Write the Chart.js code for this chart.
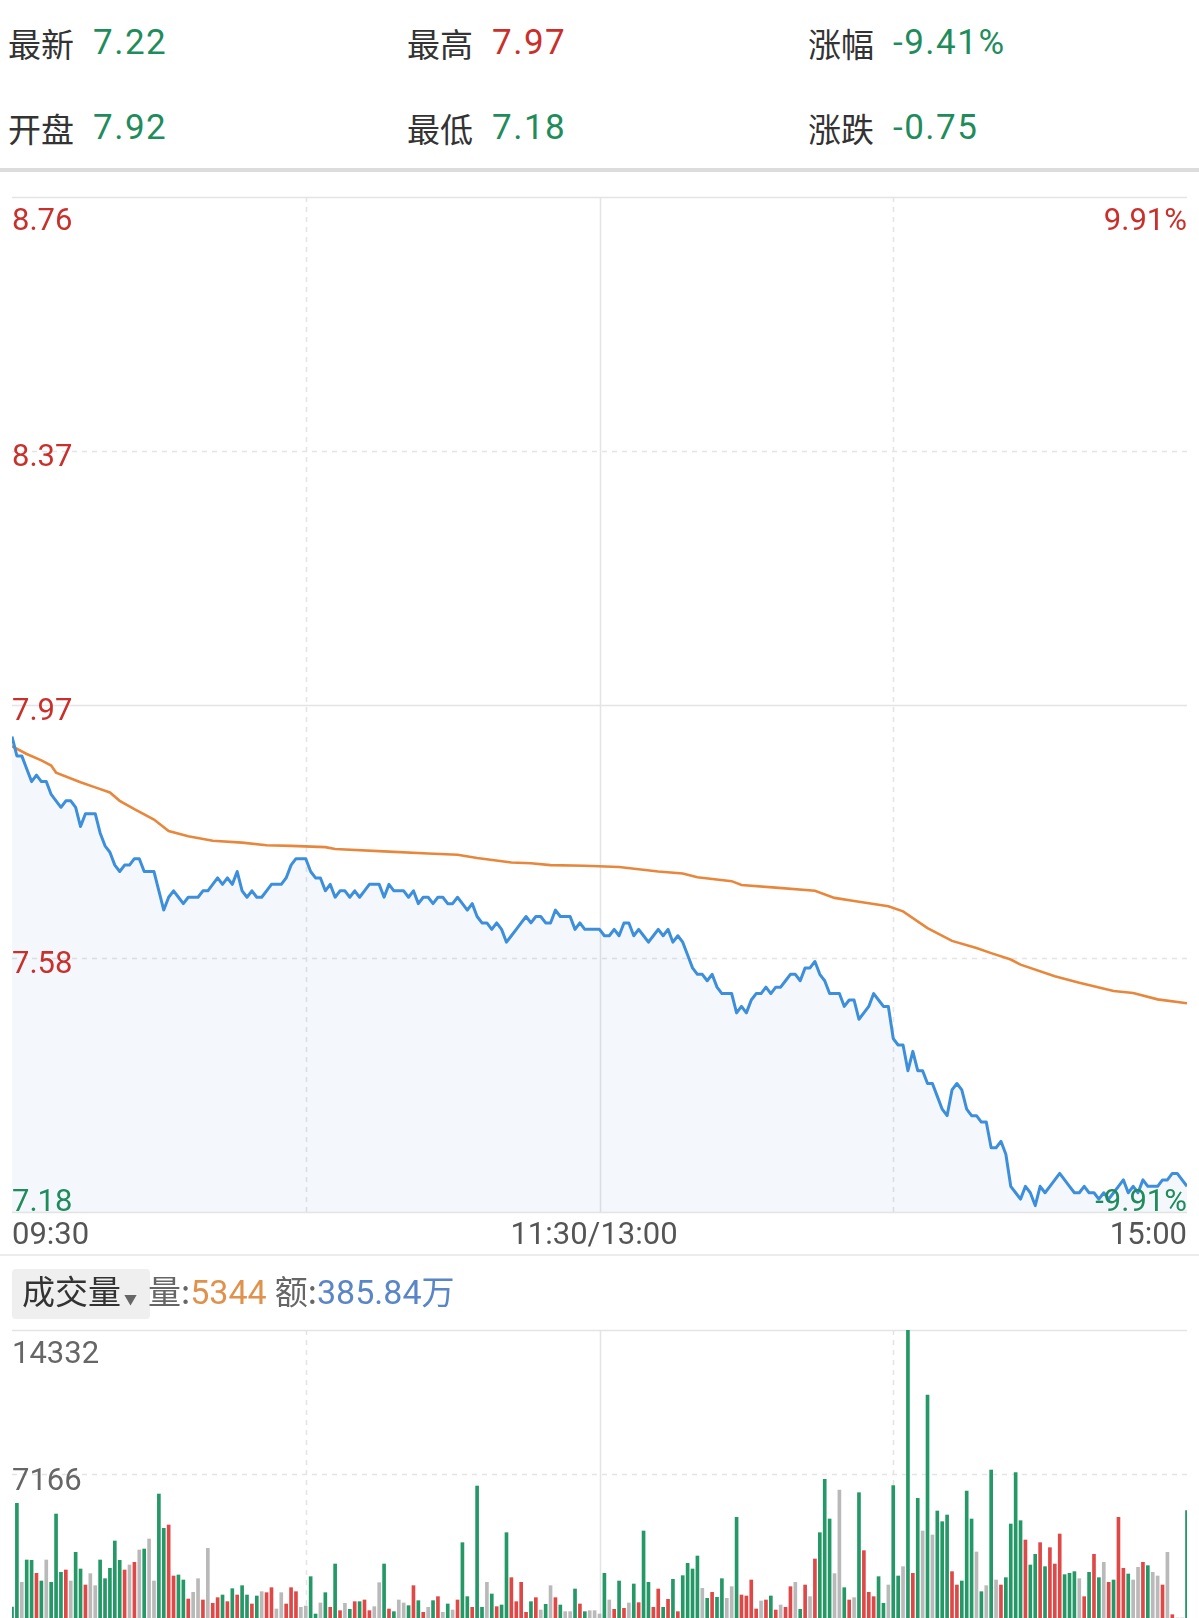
<!DOCTYPE html>
<html>
<head>
<meta charset="utf-8">
<script src="https://cdn.jsdelivr.net/npm/chart.js@4.4.1/dist/chart.umd.min.js"></script>
<style>
html, body { margin: 0; padding: 0; background: #fff; }
body { width: 1199px; height: 1618px; position: relative; overflow: hidden; font-family: Roboto, "Noto Sans CJK SC", sans-serif; }
.t { position: absolute; white-space: nowrap; line-height: 40px; height: 40px; }
.k { font-family: "Noto Sans CJK SC"; font-size: 33px; color: #333; }
.v { font-family: Roboto; font-size: 35px; letter-spacing: 1.5px; }
.up { color: #c9302c; }
.dn { color: #1f8c5c; }
.sep { position: absolute; left: 0; width: 1199px; }
canvas { position: absolute; left: 0; }
.tl { position: absolute; font-family: Roboto; font-size: 31px; color: #555; line-height: 36px; white-space: nowrap; }
#volBtn { position: absolute; left: 12px; top: 1269px; width: 138px; height: 50px; background: #efefef; border-radius: 4px; }
#volHead { position: absolute; left: 22px; top: 1268px; line-height: 44px; font-size: 33px; white-space: nowrap; }
#volHead .c { font-family: "Noto Sans CJK SC"; color: #333; }
#volHead .g { font-family: "Noto Sans CJK SC"; color: #666; }
#volHead .n { font-family: Roboto; font-size: 34px; }
</style>
</head>
<body>

<div class="t k" style="left:8px;top:23px">最新</div><div class="t v dn" style="left:93px;top:23px">7.22</div>
<div class="t k" style="left:407px;top:23px">最高</div><div class="t v up" style="left:492px;top:23px">7.97</div>
<div class="t k" style="left:808px;top:23px">涨幅</div><div class="t v dn" style="left:893px;top:23px">-9.41%</div>
<div class="t k" style="left:8px;top:108px">开盘</div><div class="t v dn" style="left:93px;top:108px">7.92</div>
<div class="t k" style="left:407px;top:108px">最低</div><div class="t v dn" style="left:492px;top:108px">7.18</div>
<div class="t k" style="left:808px;top:108px">涨跌</div><div class="t v dn" style="left:893px;top:108px">-0.75</div>

<div class="sep" style="top:168px;height:4px;background:#dcdcdc"></div>

<canvas id="priceChart" width="1199" height="1030" style="top:190px"></canvas>

<div class="tl" style="left:12px;top:1216px">09:30</div>
<div class="tl" style="left:594px;top:1216px;transform:translateX(-50%)">11:30/13:00</div>
<div class="tl" style="right:12px;top:1216px">15:00</div>

<div class="sep" style="top:1254px;height:2px;background:#ececec"></div>

<div id="volBtn"></div>
<div id="volHead"><span class="c">成交量</span><span class="g" style="font-size:13px;margin:0 11px 0 3px">▼</span><span class="g">量:</span><span class="n" style="color:#e0914c">5344</span> <span class="g">额:</span><span class="n" style="color:#5a85c6">385.84</span><span class="n" style="color:#5a85c6;font-family:'Noto Sans CJK SC';font-size:33px">万</span></div>

<canvas id="volChart" width="1199" height="298" style="top:1320px"></canvas>

<script>
// minute prices 09:30 .. 15:00 (241 points)
const prices = [
    7.92, 7.89, 7.89, 7.87, 7.85, 7.86, 7.85, 7.85, 7.83, 7.82,
    7.81, 7.82, 7.82, 7.81, 7.78, 7.80, 7.80, 7.80, 7.77, 7.75,
    7.74, 7.72, 7.71, 7.72, 7.72, 7.73, 7.73, 7.71, 7.71, 7.71,
    7.68, 7.65, 7.67, 7.68, 7.67, 7.66, 7.67, 7.67, 7.67, 7.68,
    7.68, 7.69, 7.70, 7.69, 7.70, 7.69, 7.71, 7.68, 7.67, 7.68,
    7.67, 7.67, 7.68, 7.69, 7.69, 7.69, 7.70, 7.72, 7.73, 7.73,
    7.73, 7.71, 7.70, 7.70, 7.68, 7.69, 7.67, 7.68, 7.68, 7.67,
    7.68, 7.67, 7.68, 7.69, 7.69, 7.69, 7.67, 7.69, 7.68, 7.68,
    7.68, 7.67, 7.68, 7.66, 7.67, 7.67, 7.66, 7.67, 7.67, 7.66,
    7.66, 7.67, 7.66, 7.65, 7.66, 7.64, 7.63, 7.63, 7.62, 7.63,
    7.62, 7.60, 7.61, 7.62, 7.63, 7.64, 7.63, 7.64, 7.64, 7.63,
    7.63, 7.65, 7.64, 7.64, 7.64, 7.62, 7.63, 7.62, 7.62, 7.62,
    7.62, 7.61, 7.61, 7.62, 7.61, 7.63, 7.63, 7.61, 7.62, 7.61,
    7.60, 7.61, 7.62, 7.61, 7.62, 7.60, 7.61, 7.60, 7.58, 7.56,
    7.55, 7.55, 7.54, 7.55, 7.53, 7.52, 7.52, 7.52, 7.49, 7.50,
    7.49, 7.51, 7.52, 7.52, 7.53, 7.52, 7.53, 7.53, 7.54, 7.55,
    7.55, 7.54, 7.56, 7.56, 7.57, 7.55, 7.54, 7.52, 7.52, 7.52,
    7.50, 7.51, 7.51, 7.48, 7.49, 7.50, 7.52, 7.51, 7.50, 7.50,
    7.45, 7.44, 7.44, 7.40, 7.43, 7.40, 7.40, 7.38, 7.38, 7.36,
    7.34, 7.33, 7.37, 7.38, 7.37, 7.34, 7.33, 7.33, 7.32, 7.32,
    7.28, 7.28, 7.29, 7.27, 7.22, 7.21, 7.20, 7.22, 7.21, 7.19,
    7.22, 7.21, 7.22, 7.23, 7.24, 7.23, 7.22, 7.21, 7.21, 7.22,
    7.21, 7.21, 7.20, 7.21, 7.20, 7.21, 7.22, 7.23, 7.21, 7.22,
    7.21, 7.23, 7.22, 7.22, 7.22, 7.23, 7.23, 7.24, 7.24, 7.23,
    7.22
];

// average price line, read at these minutes
const avgMinutes = [0, 3, 6, 8, 9, 14, 17, 20, 22, 25, 29, 32, 36, 41, 47, 52, 57, 64, 66, 77,
    85, 91, 95, 102, 106, 110, 117, 124, 132, 137, 140, 147, 149, 156, 164, 168, 172, 179, 182, 187,
    192, 197, 200, 204, 206, 213, 218, 225, 229, 234, 240];
const avgPrices = [7.905, 7.893, 7.883, 7.875, 7.864, 7.849, 7.841, 7.833, 7.820, 7.807,
    7.791, 7.773, 7.765, 7.758, 7.755, 7.751, 7.750, 7.748, 7.745, 7.741,
    7.738, 7.736, 7.731, 7.724, 7.723, 7.720, 7.719, 7.717, 7.710, 7.707,
    7.701, 7.695, 7.689, 7.685, 7.680, 7.669, 7.664, 7.656, 7.648, 7.622,
    7.602, 7.591, 7.583, 7.573, 7.565, 7.547, 7.537, 7.524, 7.521, 7.511, 7.505];

// minute volumes
const volumes = [
    547, 5707, 1776, 2886, 2870, 2223, 1841, 2886, 1776, 5175,
    2274, 2389, 1841, 3268, 2439, 1642, 2207, 1609, 2886, 1957,
    2472, 3832, 2870, 2389, 2638, 2770, 3384, 3433, 3931, 1841,
    6170, 4462, 4628, 2090, 2140, 1891, 945, 1277, 1957, 896,
    3467, 730, 1012, 1144, 813, 1459, 1145, 1609, 1144, 697,
    1095, 1310, 1261, 1509, 448, 1261, 697, 1509, 1310, 531,
    597, 2057, 199, 747, 1261, 531, 2687, 365, 730, 431,
    813, 813, 896, 365, 564, 1758, 2687, 448, 315, 896,
    747, 614, 1609, 863, 282, 531, 863, 1062, 282, 697,
    398, 896, 3749, 1062, 531, 6568, 531, 1776, 1194, 564,
    647, 4246, 2007, 813, 1776, 282, 813, 1012, 398, 680,
    1609, 1012, 647, 315, 315, 1443, 697, 315, 365, 365,
    199, 2223, 896, 431, 1841, 481, 747, 1692, 763, 4329,
    1776, 531, 1443, 531, 929, 1924, 315, 2107, 2720, 2439,
    3085, 1476, 979, 1277, 1028, 1957, 979, 1559, 5009, 1144,
    1095, 1891, 448, 846, 896, 1095, 398, 647, 531, 1559,
    1776, 431, 1642, 1062, 2936, 4246, 6900, 4926, 2207, 6369,
    1509, 896, 1012, 6237, 3351, 1277, 1062, 2057, 730, 1642,
    6585, 2090, 2555, 14332, 2223, 5955, 4329, 11096, 4130, 5324,
    4793, 5125, 2306, 1642, 1841, 6320, 4926, 3284, 1310, 1609,
    7364, 1891, 1642, 2007, 4677, 7231, 4843, 3881, 2638, 3168,
    3749, 2555, 3500, 2687, 4180, 2157, 2223, 2306, 1957, 1062,
    2274, 3168, 2007, 2770, 1776, 1891, 5009, 2472, 2190, 1891,
    2522, 2770, 2605, 2274, 2090, 1642, 3268, 166, 0, 0,
    5344
];

// 1 = up tick, -1 = down tick, 0 = unchanged
const volDirs = [
    -1, -1, 0, -1, -1, 1, -1, 0, -1, -1,
    -1, 1, 0, -1, -1, 1, 0, 0, -1, -1,
    -1, -1, -1, 1, 0, 1, 0, -1, 0, 0,
    -1, -1, 1, 1, -1, -1, 1, 0, 0, 1,
    0, 1, 1, -1, 1, -1, 1, -1, -1, 1,
    -1, 0, 1, 1, 0, 0, 1, 1, 1, 0,
    0, -1, -1, 0, -1, 1, -1, 1, 0, -1,
    1, -1, 1, 1, 0, 0, -1, 1, -1, 0,
    0, -1, 1, -1, 1, 0, -1, 1, 0, -1,
    0, 1, -1, -1, 1, -1, -1, 0, -1, 1,
    -1, -1, 1, 1, 1, 1, -1, 1, 0, -1,
    0, 1, -1, 0, 0, -1, 1, -1, 0, 0,
    0, -1, 0, 1, -1, 1, 0, -1, 1, -1,
    -1, 1, 1, -1, 1, -1, 1, -1, -1, -1,
    -1, 0, -1, 1, -1, -1, 0, 0, -1, 1,
    1, 1, 1, 0, 1, -1, 1, 0, 1, 1,
    0, -1, 1, 0, 1, -1, -1, -1, 0, 0,
    -1, 1, 0, -1, 1, 1, 1, -1, -1, 0,
    -1, -1, 0, -1, 1, -1, 0, -1, 0, -1,
    -1, -1, 1, 1, -1, -1, -1, 0, -1, 0,
    -1, 0, 1, -1, -1, -1, -1, 1, -1, -1,
    1, -1, 1, 1, 1, -1, -1, -1, 0, 1,
    -1, 1, -1, 0, 1, -1, 1, 1, -1, 0,
    0, 1, -1, 0, 0, 1, 0, 1, 0, 0,
    -1
];

const priceTicks = [8.76, 8.365, 7.97, 7.575, 7.18];
const priceTickLabels = ["8.76", "8.37", "7.97", "7.58", "7.18"];
const pctLabels = ["9.91%", "-9.91%"];
const volTicks = [14332, 7166];
const volTickLabels = ["14332", "7166"];
const timeGrid = [60, 120, 180];

const RED = "#c9302c";
const GREEN = "#1f8c5c";
const GRID = "#e4e4e4";

function line(ctx, x1, y1, x2, y2, dashed){
    ctx.beginPath();
    ctx.setLineDash(dashed ? [5, 5] : []);
    ctx.moveTo(x1, y1);
    ctx.lineTo(x2, y2);
    ctx.stroke();
}

// grid for both charts, drawn under the data
const gridPlugin = {
    id: "grid",
    beforeDatasetsDraw(chart, args, opts){
        const { ctx, chartArea: a, scales: { x, y } } = chart;
        ctx.save();
        ctx.strokeStyle = GRID;
        ctx.lineWidth = 1.5;
        opts.hTicks.forEach((v, i) => {
            const py = Math.round(y.getPixelForValue(v)) + 0.5;
            line(ctx, a.left, py, a.right, py, opts.hDashed[i]);
        });
        timeGrid.forEach(m => {
            const px = Math.round(x.getPixelForValue(m)) + 0.5;
            line(ctx, px, a.top, px, a.bottom, m !== 120);
        });
        ctx.restore();
    }
};

const priceLabels = {
    id: "priceLabels",
    afterDatasetsDraw(chart){
        const { ctx, chartArea: a, scales: { y } } = chart;
        ctx.save();
        ctx.font = "31px Roboto";
        ctx.textBaseline = "alphabetic";
        priceTicks.forEach((v, i) => {
            const py = y.getPixelForValue(v);
            let base = py + 15;
            if(i === 0) base = py + 33;
            if(i === priceTicks.length - 1) base = py - 1;
            ctx.fillStyle = i === priceTicks.length - 1 ? GREEN : RED;
            ctx.textAlign = "left";
            ctx.fillText(priceTickLabels[i], a.left, base);
        });
        ctx.textAlign = "right";
        ctx.fillStyle = RED;
        ctx.fillText(pctLabels[0], a.right, a.top + 33);
        ctx.fillStyle = GREEN;
        ctx.fillText(pctLabels[1], a.right, a.bottom - 1);
        ctx.restore();
    }
};

const volLabels = {
    id: "volLabels",
    afterDatasetsDraw(chart){
        const { ctx, chartArea: a, scales: { y } } = chart;
        ctx.save();
        ctx.font = "31px Roboto";
        ctx.fillStyle = "#666";
        ctx.textAlign = "left";
        ctx.fillText(volTickLabels[0], a.left, y.getPixelForValue(volTicks[0]) + 33);
        ctx.fillText(volTickLabels[1], a.left, y.getPixelForValue(volTicks[1]) + 16);
        ctx.restore();
    }
};

new Chart(document.getElementById("priceChart"), {
    type: "line",
    data: {
        datasets: [
            {
                data: prices.map((p, i) => ({ x: i, y: p })),
                borderColor: "#3d8fdc",
                borderWidth: 3,
                backgroundColor: "rgba(61,143,220,0.06)",
                fill: "start",
                pointRadius: 0,
                tension: 0,
                borderJoinStyle: "round",
                order: 0
            },
            {
                data: avgMinutes.map((m, i) => ({ x: m, y: avgPrices[i] })),
                borderColor: "#e8873b",
                borderWidth: 2.6,
                pointRadius: 0,
                tension: 0,
                fill: false,
                order: 1
            }
        ]
    },
    options: {
        responsive: false,
        animation: false,
        events: [],
        layout: { padding: { left: 12, right: 12, top: 7, bottom: 8 } },
        scales: {
            x: { type: "linear", min: 0, max: 240, display: false },
            y: { min: 7.18, max: 8.76, display: false }
        },
        plugins: {
            legend: { display: false },
            tooltip: { enabled: false },
            grid: { hTicks: priceTicks, hDashed: [false, true, false, true, false] }
        }
    },
    plugins: [gridPlugin, priceLabels]
});

new Chart(document.getElementById("volChart"), {
    type: "bar",
    data: {
        datasets: [{
            data: volumes.map((v, i) => ({ x: i, y: v })),
            backgroundColor: volDirs.map(d => d > 0 ? "#e04848" : d < 0 ? "#259867" : "#b9b9b9"),
            barThickness: 3,
            borderWidth: 0
        }]
    },
    options: {
        responsive: false,
        animation: false,
        events: [],
        layout: { padding: { left: 12, right: 12, top: 10, bottom: 0 } },
        scales: {
            x: { type: "linear", min: 0, max: 240, offset: false, display: false },
            y: { min: 0, max: 14332, display: false }
        },
        plugins: {
            legend: { display: false },
            tooltip: { enabled: false },
            grid: { hTicks: volTicks, hDashed: [false, true] }
        }
    },
    plugins: [gridPlugin, volLabels]
});
</script>
</body>
</html>
